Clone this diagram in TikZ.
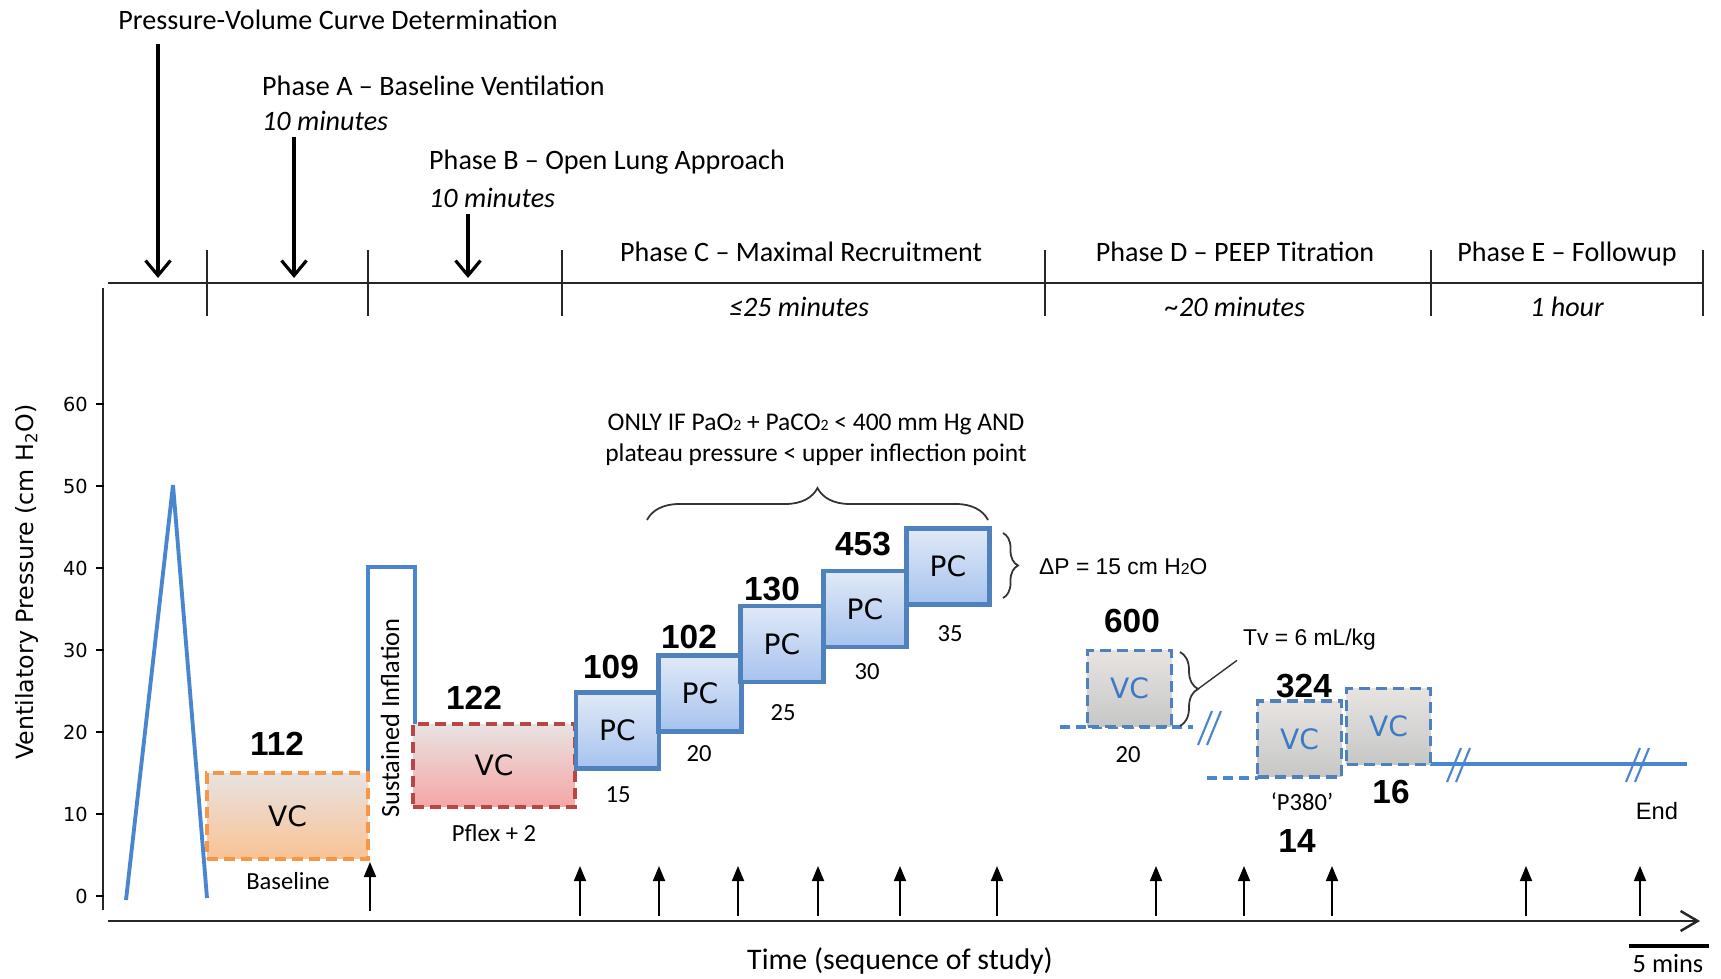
\documentclass[tikz,border=0pt]{standalone}
\usepackage{fontspec}
\setmainfont{Carlito}
\newfontfamily\arialfont{Liberation Sans}
\newfontfamily\verdfont{DejaVu Sans}
\usepackage{tikz}
\usetikzlibrary{arrows.meta,positioning,calc,decorations.pathreplacing}
\definecolor{lineblue}{RGB}{74,134,208}
\definecolor{pcedge}{RGB}{79,129,189}
\definecolor{pctop}{RGB}{224,233,247}
\definecolor{pcbot}{RGB}{166,195,238}
\definecolor{orangeedge}{RGB}{247,150,70}
\definecolor{redge}{RGB}{185,70,70}
\definecolor{bandgray}{RGB}{231,227,225}
\definecolor{bandpink}{RGB}{248,206,194}
\definecolor{bandorange}{RGB}{250,194,148}
\definecolor{bandred}{RGB}{246,166,166}
\definecolor{graymid}{RGB}{222,214,212}
\definecolor{graybot}{RGB}{198,200,198}
\definecolor{vctext}{RGB}{60,122,196}
\newcommand{\ptsize}[1]{\fontsize{#1}{#1}\selectfont}
\newcommand{\smtwo}{{\fontsize{9}{9}\selectfont 2}}

\begin{document}
\begin{tikzpicture}[x=0.02cm, y=-0.02cm,
    phase/.style={font=\ptsize{16}},
    dur/.style={font=\ptsize{16}\itshape},
    vol/.style={font=\arialfont\bfseries\ptsize{19}},
    lbl/.style={font=\ptsize{14}},
    boxdash/.style={dash pattern=on 0.22cm off 0.12cm},
    pcbox/.style={draw=pcedge, line width=2.6pt, top color=pctop,
                  bottom color=pcbot, minimum width=1.66cm,
                  minimum height=1.52cm, inner sep=0pt,
                  font=\verdfont\ptsize{16}},
    vcgray/.style={draw=pcedge, line width=2.2pt, boxdash,
                   top color=bandgray, middle color=graymid,
                   bottom color=graybot, minimum width=1.68cm,
                   minimum height=1.52cm, inner sep=0pt, text=vctext,
                   font=\verdfont\ptsize{16}},
    bigarrow/.style={line width=1.8pt, -{Straight Barb[length=0.3cm,width=0.5cm]}},
    evtarrow/.style={line width=1pt, -{Triangle[length=0.3cm,width=0.24cm]}},
    axisline/.style={black!85, line width=1.2pt},
    trace/.style={lineblue, line width=2.2pt},
    tracedash/.style={lineblue, line width=1.8pt, dash pattern=on 0.2cm off 0.12cm}]
  \useasboundingbox (0,0) rectangle (1721,979);

  % Phase headings and top arrows
  \node[phase] (pvcurve) at (338,20) {Pressure-Volume Curve  Determination};
  \node[phase, anchor=west] (phaseA) at (256,86) {Phase A – Baseline Ventilation};
  \node[dur, anchor=west] (timeA) at (256,121) {10 minutes};
  \node[phase, anchor=west] (phaseB) at (423,162) {Phase B – Open Lung Approach};
  \node[dur, anchor=west] (timeB) at (423,198) {10 minutes};
  \node[phase] (phaseC) at (801,252) {Phase C – Maximal Recruitment};
  \node[dur] (timeC) at (799,307) {≤25 minutes};
  \node[phase] (phaseD) at (1235,252) {Phase D – PEEP Titration};
  \node[dur] (timeD) at (1235,307) {\textasciitilde20 minutes};
  \node[phase] (phaseE) at (1567,254) {Phase E – Followup};
  \node[dur] (timeE) at (1567,307) {1 hour};
  \coordinate (pvtip) at (158,278);
  \coordinate (atip) at (294,278);
  \coordinate (btip) at (468,278);
  \draw[bigarrow] (pvtip |- 0,44) -- (pvtip);
  \draw[bigarrow] (atip |- timeA.south) -- (atip);
  \draw[bigarrow] (btip |- timeB.south) -- (btip);

  % top timeline
  \draw[axisline] (108,283) -- (1703,283);
  \foreach \x in {207,368,562,1045,1431,1703}
    \draw[axisline] (\x,250) -- (\x,316);

  % pressure axis
  \draw[axisline] (103,288) -- (103,910);
  \foreach \p in {0,10,...,60}{
    \draw[line width=0.8pt] (96,896-8.2*\p) -- (104,896-8.2*\p);
    \node[anchor=east, font=\verdfont\ptsize{11}] (tick\p) at (94,896-8.2*\p) {\p};
  }
  \node[rotate=90, font=\verdfont\ptsize{13.5}] (ylabel) at (27,582)
    {Ventilatory Pressure (cm H\textsubscript{2}O)};

  % PV curve and sustained inflation
  \draw[trace] (126,900) -- (173,485) -- (207,898);
  \draw[trace, line width=1.8pt] (368,773) |- (415,567) -- (415,724);
  \node[rotate=90, font=\ptsize{15}] (silabel) at (390,718) {Sustained Inflation};

  % Phase A and B boxes
  \node[draw=orangeedge, line width=2.2pt, boxdash, top color=bandgray,
        middle color=bandpink, bottom color=bandorange,
        minimum width=3.22cm, minimum height=1.72cm, inner sep=0pt,
        font=\verdfont\ptsize{16}] (vcbase) at (287.5,816) {VC};
  \node[draw=redge, line width=2.2pt, boxdash, top color=bandgray,
        middle color=bandpink, bottom color=bandred,
        minimum width=3.24cm, minimum height=1.66cm, inner sep=0pt,
        font=\verdfont\ptsize{16}] (vcflex) at (494,765.5) {VC};
  \node[vol] (v112) at (277,744) {112};
  \node[vol] (v122) at (474,698) {122};
  \node[lbl] (baseline) at (288,881) {Baseline};
  \node[lbl] (pflex) at (494,833) {Pflex + 2};

  % Phase C recruitment steps
  \node[pcbox] (pc1) at (617.5,730.5) {PC};
  \node[pcbox] (pc2) at (700,693.5) {PC};
  \node[pcbox] (pc3) at (782,644) {PC};
  \node[pcbox] (pc4) at (865,609) {PC};
  \node[pcbox] (pc5) at (948,566.5) {PC};
  \node[vol] (v109) at (611,667) {109};
  \node[vol] (v102) at (689,637) {102};
  \node[vol] (v130) at (772,589) {130};
  \node[vol] (v453) at (863,544) {453};
  \node[lbl] (p15) at (618,795) {15};
  \node[lbl] (p20) at (699,754) {20};
  \node[lbl] (p25) at (783,713) {25};
  \node[lbl] (p30) at (867,672) {30};
  \node[lbl] (p35) at (950,634) {35};
  \draw[black!80, line width=1pt, decorate,
        decoration={brace, amplitude=0.64cm}] (647,520) -- (988,520);
  \node[font=\ptsize{14.5}, align=center] (onlyif) at (816,440)
    {ONLY IF PaO\smtwo{} + PaCO\smtwo{} < 400 mm Hg AND\\[3pt]
     plateau pressure < upper inflection point};
  \draw[black!80, line width=1pt, decorate,
        decoration={brace, amplitude=0.3cm}] (1003,533) -- (1003,598);
  \node[anchor=west, font=\arialfont\ptsize{13}] (deltap) at (1033,567)
    {ΔP = 15 cm H\smtwo O};

  % Phase D and E
  \draw[tracedash] (1060,727) -- (1193,727);
  \draw[tracedash] (1207,778) -- (1258,778);
  \draw[trace, line width=1.8pt] (1430,764) -- (1687,764);
  \node[vcgray] (vc600) at (1129.5,688.5) {VC};
  \node[vcgray] (vc324) at (1299.5,739) {VC};
  \node[vcgray] (vc16) at (1388.5,726.5) {VC};
  \foreach \bx/\by in {1209/728, 1458/765, 1637/765}{
    \draw[lineblue, line width=1.2pt] (\bx-11,\by+17) -- ++(14,-34);
    \draw[lineblue, line width=1.2pt] (\bx-2,\by+17) -- ++(14,-34);
  }
  \node[vol] (v600) at (1132,621) {600};
  \node[vol] (v324) at (1304,686) {324};
  \node[vol] (v16) at (1391,792) {16};
  \node[vol] (v14) at (1297,841) {14};
  \node[lbl] (d20) at (1128,755) {20};
  \node[lbl] (p380) at (1302,802) {‘P380’};
  \node[font=\arialfont\ptsize{13.5}] (endlbl) at (1657,811) {End};
  \draw[black!80, line width=1pt, decorate,
        decoration={brace, amplitude=0.36cm}] (1180,652) -- (1180,726);
  \coordinate (tvtip) at (1198,689);
  \node[anchor=west, font=\arialfont\ptsize{13}] (tv) at (1237,640) {Tv = 6 mL/kg};
  \draw[black!80, line width=0.8pt] (tvtip) -- ([yshift=-2pt]tv.south west);

  % time axis and sampling arrows
  \draw[axisline, line width=1.4pt, -{Straight Barb[length=0.34cm,width=0.4cm]}]
    (108,921) -- (1700,921);
  \draw[evtarrow] (370,911) -- (370,862);
  \foreach \x [count=\i] in {580,659,738,818,900,997,1156,1244,1332,1526,1640}{
    \coordinate (ev\i) at (\x,916);
    \draw[evtarrow] (ev\i) -- ++(0,-50);
  }
  \node[font=\ptsize{17}] (timelbl) at (900,961) {Time (sequence of study)};
  \draw[line width=2.4pt] (1629,946) -- (1709,946);
  \node[font=\ptsize{15}] (fivemin) at (1668,964) {5 mins};
\end{tikzpicture}
\end{document}
